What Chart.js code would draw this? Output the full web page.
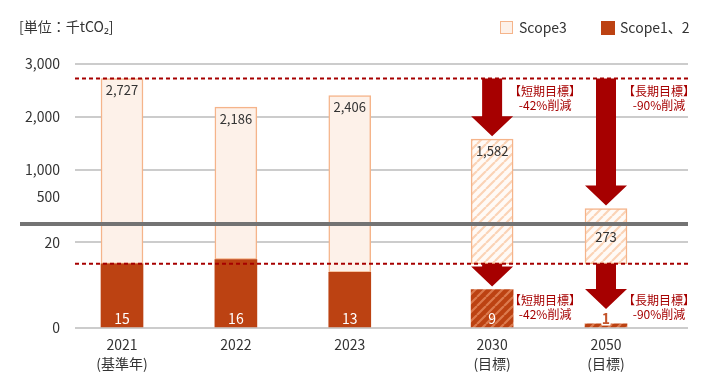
<!DOCTYPE html>
<html lang="ja">
<head>
<meta charset="utf-8">
<title>GHG排出量</title>
<script src="https://cdn.jsdelivr.net/npm/chart.js@4/dist/chart.umd.min.js"></script>
<style>
  html, body { margin: 0; padding: 0; background: #fff; }
  #wrap { position: relative; width: 708px; height: 392px; }
</style>
</head>
<body>
<div id="wrap"><canvas id="chart" width="708" height="392"></canvas></div>
<script>
// data
var years = ['2021', '2022', '2023', '2030', '2050'];
var yearNotes = ['(基準年)', '', '', '(目標)', '(目標)'];
var scope3 = [2727, 2186, 2406, 1582, 273];
var scope12 = [15, 16, 13, 9, 1];
var isTarget = [false, false, false, true, true];
var topTicks = [500, 1000, 2000, 3000];
var bottomTicks = [0, 20];
var targetNotes = [null, null, null, ['【短期目標】', '-42%削減'], ['【長期目標】', '-90%削減']];
var seriesNames = ['Scope3', 'Scope1、2'];
var unitLabel = '[単位：千tCO₂]';

// colours
var C3 = '#fdf1e9', C3_BORDER = '#f5b48a', C12 = '#bc4212', RED = '#a60000', TXT = '#333333';
var FONT = '"Noto Sans CJK JP", "Noto Sans", sans-serif';

// targets sit a bit further right than the actual years
var slots = years.map(function(y, i) { return i + (isTarget[i] ? 0.25 : 0); });

function hatch(bg, fg) {
    var s = 9;
    var c = document.createElement('canvas');
    c.width = c.height = s;
    var g = c.getContext('2d');
    g.fillStyle = bg;
    g.fillRect(0, 0, s, s);
    g.strokeStyle = fg;
    g.lineWidth = 2.2;
    g.beginPath();
    [-s, 0, s].forEach(function(k) { g.moveTo(k, s); g.lineTo(k + s, 0); });
    g.stroke();
    return g.createPattern(c, 'repeat');
}
var hatchLight = hatch('#fffaf6', '#fbd3b6');
var hatchDark = hatch(C12, '#dc7a4e');

var fill3 = isTarget.map(function(t) { return t ? hatchLight : C3; });
var fill12 = isTarget.map(function(t) { return t ? hatchDark : C12; });

var BOT_MAX = 24.3;
// lower part of the scope3 bar runs down to the scope1,2 bar (or the base year line for targets)
var connector = slots.map(function(x, i) {
    return { x: x, y: [isTarget[i] ? scope12[0] : scope12[i], BOT_MAX] };
});

function drawArrow(ctx, x, y0, y1) {
    var sw = 10, hw = 21, hh = 20;
    var yh = Math.max(y0, y1 - hh);
    ctx.fillStyle = RED;
    ctx.beginPath();
    ctx.moveTo(x - sw, y0);
    ctx.lineTo(x + sw, y0);
    ctx.lineTo(x + sw, yh);
    ctx.lineTo(x + hw, yh);
    ctx.lineTo(x, y1);
    ctx.lineTo(x - hw, yh);
    ctx.lineTo(x - sw, yh);
    ctx.closePath();
    ctx.fill();
}

var overlay = {
    id: 'overlay',
    afterDatasetsDraw: function(chart) {
        var ctx = chart.ctx, area = chart.chartArea;
        var yT = chart.scales.yTop, yB = chart.scales.yBot;
        var bars12 = chart.getDatasetMeta(0).data;
        var bars3 = chart.getDatasetMeta(2).data;
        var dashTop = yT.getPixelForValue(scope3[0]);
        var dashBot = yB.getPixelForValue(scope12[0]);

        ctx.save();
        // axis break
        ctx.fillStyle = '#737373';
        ctx.fillRect(20, yT.bottom - 2, area.right - 20, 4);

        // base year lines
        ctx.strokeStyle = RED;
        ctx.lineWidth = 2;
        ctx.setLineDash([4, 3]);
        [dashTop, dashBot].forEach(function(y) {
            ctx.beginPath();
            ctx.moveTo(area.left, y);
            ctx.lineTo(area.right, y);
            ctx.stroke();
        });
        ctx.setLineDash([]);

        ctx.textAlign = 'center';
        ctx.textBaseline = 'middle';
        years.forEach(function(y, i) {
            var b3 = bars3[i], b12 = bars12[i];
            if (isTarget[i]) {
                drawArrow(ctx, b3.x, dashTop, b3.y - 3);
                drawArrow(ctx, b12.x, dashBot, Math.min(b12.y, yB.bottom - 16) - 3);
                ctx.fillStyle = RED;
                ctx.font = '12px ' + FONT;
                var nx = b3.x + 53;
                ctx.fillText(targetNotes[i][0], nx, dashTop + 13);
                ctx.fillText(targetNotes[i][1], nx, dashTop + 27);
                ctx.fillText(targetNotes[i][0], nx, yB.bottom - 28);
                ctx.fillText(targetNotes[i][1], nx, yB.bottom - 14);
            }
            // scope3 value
            ctx.font = '13px ' + FONT;
            ctx.fillStyle = TXT;
            var ly = (yT.bottom - b3.y > 24) ? b3.y + 11.5 : yT.bottom + 13;
            ctx.fillText(scope3[i].toLocaleString('en-US'), b3.x, ly);
            // scope1,2 value
            var t = String(scope12[i]);
            if (yB.bottom - b12.y < 16) {
                ctx.font = 'bold 14px ' + FONT;
                ctx.lineWidth = 3;
                ctx.lineJoin = 'round';
                ctx.strokeStyle = '#ffffff';
                ctx.strokeText(t, b12.x, yB.bottom - 9);
                ctx.fillStyle = '#c4542a';
            } else {
                ctx.font = '14px ' + FONT;
                ctx.fillStyle = '#ffffff';
            }
            ctx.fillText(t, b12.x, yB.bottom - 9);
        });
        ctx.restore();
    },
    afterDraw: function(chart) {
        var ctx = chart.ctx;
        ctx.save();
        ctx.textBaseline = 'middle';
        ctx.textAlign = 'left';
        ctx.fillStyle = TXT;
        ctx.font = '14px ' + FONT;
        ctx.fillText(unitLabel, 19, 27);

        // legend
        ctx.font = '14px ' + FONT;
        ctx.fillStyle = C3;
        ctx.fillRect(500, 21, 13, 13);
        ctx.strokeStyle = C3_BORDER;
        ctx.lineWidth = 1;
        ctx.strokeRect(500.5, 21.5, 12, 12);
        ctx.fillStyle = TXT;
        ctx.fillText(seriesNames[0], 519, 27.5);
        ctx.fillStyle = C12;
        ctx.fillRect(601, 21, 14, 14);
        ctx.fillStyle = TXT;
        ctx.fillText(seriesNames[1], 620, 27.5);
        ctx.restore();
    }
};

Chart.defaults.font.family = FONT;
Chart.defaults.color = TXT;

var ctx = document.getElementById('chart').getContext('2d');
var chart = new Chart(ctx, {
    type: 'bar',
    data: {
        datasets: [
            {
                label: seriesNames[1],
                yAxisID: 'yBot',
                data: slots.map(function(x, i) { return { x: x, y: scope12[i] }; }),
                backgroundColor: fill12,
                borderWidth: 0
            },
            {
                label: seriesNames[0] + ' (lower)',
                yAxisID: 'yBot',
                data: connector,
                backgroundColor: fill3,
                borderColor: C3_BORDER,
                borderWidth: 1.5,
                borderSkipped: 'top'
            },
            {
                label: seriesNames[0],
                yAxisID: 'yTop',
                data: slots.map(function(x, i) { return { x: x, y: scope3[i] }; }),
                backgroundColor: fill3,
                borderColor: C3_BORDER,
                borderWidth: 1.5,
                borderSkipped: 'bottom'
            }
        ]
    },
    options: {
        responsive: false,
        animation: false,
        devicePixelRatio: 1,
        layout: { padding: { top: 64, right: 20, bottom: 11.6, left: 0 } },
        datasets: { bar: { grouped: false, barThickness: 42 } },
        plugins: { legend: { display: false }, tooltip: { enabled: false } },
        scales: {
            x: {
                type: 'linear',
                min: -0.4127,
                max: 4.97,
                offset: false,
                grid: { display: false, drawTicks: false, offset: false },
                border: { display: false },
                afterBuildTicks: function(s) { s.ticks = slots.map(function(v) { return { value: v }; }); },
                ticks: {
                    autoSkip: false,
                    maxRotation: 0,
                    padding: 8,
                    color: TXT,
                    font: { size: 14, lineHeight: 1.3 },
                    callback: function(v, i) { return yearNotes[i] ? [years[i], yearNotes[i]] : years[i]; }
                }
            },
            yBot: {
                type: 'linear',
                position: 'left',
                stack: 'v',
                stackWeight: 104,
                min: 0,
                max: BOT_MAX,
                afterBuildTicks: function(s) { s.ticks = bottomTicks.map(function(v) { return { value: v }; }); },
                afterFit: function(s) { s.width = 75; },
                grid: { color: '#cccccc', lineWidth: 2, drawTicks: false },
                border: { display: false },
                ticks: { padding: 15, color: TXT, font: { size: 14 } }
            },
            yTop: {
                type: 'linear',
                position: 'left',
                stack: 'v',
                stackWeight: 160,
                min: -20,
                max: 3000,
                afterBuildTicks: function(s) { s.ticks = topTicks.map(function(v) { return { value: v }; }); },
                afterFit: function(s) { s.width = 75; },
                grid: {
                    color: function(c) { return c.tick && c.tick.value === 500 ? 'rgba(0,0,0,0)' : '#cccccc'; },
                    lineWidth: 2,
                    drawTicks: false
                },
                border: { display: false },
                ticks: {
                    padding: 15,
                    color: TXT,
                    font: { size: 14 },
                    callback: function(v) { return v.toLocaleString('en-US'); }
                }
            }
        }
    },
    plugins: [overlay]
});
</script>
</body>
</html>
